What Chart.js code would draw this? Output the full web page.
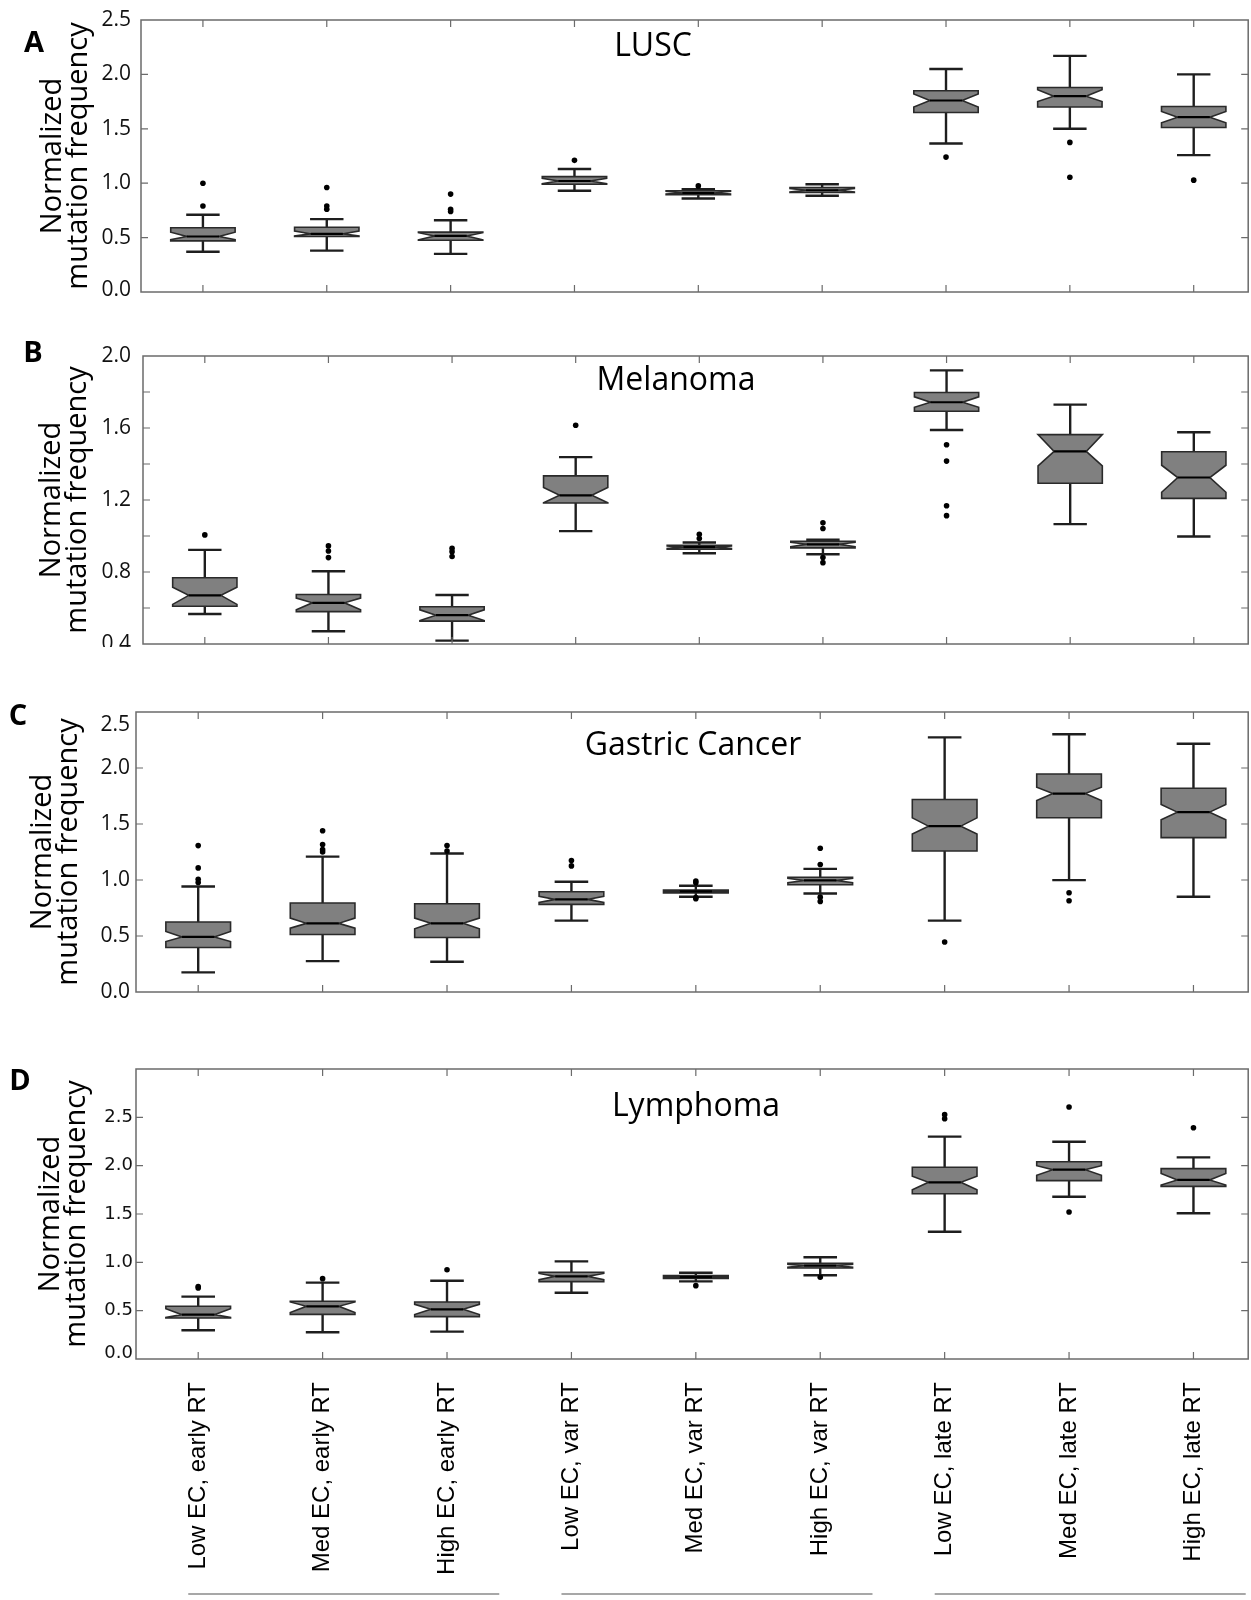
<!DOCTYPE html>
<html><head><meta charset="utf-8">
<script src="https://cdn.jsdelivr.net/npm/chart.js@4.4.1/dist/chart.umd.min.js"></script>
<style>
html,body{margin:0;padding:0;background:#fff;overflow:hidden;}
#wrap{position:relative;width:1251px;height:1600px;background:#fff;}
canvas{position:absolute;left:0;}
</style></head><body>
<div id="wrap">
<canvas id="cA" width="1251" height="320" style="top:0px"></canvas>
<canvas id="cB" width="1251" height="327" style="top:320px"></canvas>
<canvas id="cC" width="1251" height="363" style="top:647px"></canvas>
<canvas id="cD" width="1251" height="590" style="top:1010px"></canvas>
</div>
<script>
const categories = ['Low EC, early RT','Med EC, early RT','High EC, early RT','Low EC, var RT','Med EC, var RT','High EC, var RT','Low EC, late RT','Med EC, late RT','High EC, late RT'];
const yTitle = ['Normalized','mutation frequency'];
const groupRanges = [[0,2],[3,5],[6,8]];

// Panel A: LUSC
const luscWhiskerLo = [0.37,0.38,0.35,0.93,0.86,0.885,1.365,1.50,1.258];
const luscQ1        = [0.47,0.51,0.475,0.99,0.895,0.915,1.65,1.70,1.512];
const luscNotchLo   = [0.48,0.515,0.48,0.995,0.90,0.92,1.70,1.75,1.555];
const luscMedian    = [0.51,0.535,0.515,1.02,0.91,0.935,1.76,1.80,1.607];
const luscNotchHi   = [0.55,0.56,0.545,1.045,0.925,0.95,1.82,1.86,1.66];
const luscQ3        = [0.59,0.595,0.55,1.06,0.93,0.96,1.85,1.88,1.705];
const luscWhiskerHi = [0.71,0.67,0.66,1.13,0.945,0.99,2.05,2.17,2.00];
const luscOutliers  = [[1.00,0.79],[0.96,0.79,0.76],[0.90,0.76,0.74],[1.21],[0.975],[],[1.24],[1.375,1.055],[1.028]];
const luscTicks = [0,0.5,1.0,1.5,2.0,2.5];

// Panel B: Melanoma
const melWhiskerLo = [0.567,0.471,0.419,1.027,0.904,0.899,1.589,1.066,0.997];
const melQ1        = [0.61,0.58,0.527,1.183,0.926,0.934,1.693,1.293,1.209];
const melNotchLo   = [0.62,0.59,0.53,1.185,0.93,0.94,1.715,1.39,1.243];
const melMedian    = [0.67,0.629,0.56,1.226,0.938,0.954,1.743,1.47,1.325];
const melNotchHi   = [0.715,0.655,0.59,1.27,0.945,0.965,1.773,1.563,1.393];
const melQ3        = [0.768,0.675,0.607,1.334,0.949,0.971,1.797,1.563,1.468];
const melWhiskerHi = [0.923,0.804,0.672,1.438,0.964,0.979,1.92,1.73,1.576];
const melOutliers  = [[1.006],[0.945,0.917,0.88],[0.932,0.913,0.886],[1.615],[1.01,0.986],[1.073,1.042,0.88,0.852],[1.507,1.416,1.168,1.113],[],[]];
const melTicks = [0.4,0.8,1.2,1.6,2.0];

// Panel C: Gastric Cancer
const gasWhiskerLo = [0.175,0.276,0.27,0.637,0.85,0.88,0.637,0.999,0.85];
const gasQ1        = [0.397,0.513,0.486,0.782,0.885,0.957,1.259,1.556,1.378];
const gasNotchLo   = [0.45,0.57,0.565,0.80,0.89,0.975,1.41,1.71,1.538];
const gasMedian    = [0.492,0.613,0.613,0.827,0.898,0.996,1.481,1.772,1.606];
const gasNotchHi   = [0.54,0.66,0.66,0.855,0.905,1.015,1.555,1.828,1.674];
const gasQ3        = [0.625,0.794,0.788,0.895,0.91,1.025,1.719,1.947,1.819];
const gasWhiskerHi = [0.942,1.209,1.236,0.984,0.948,1.099,2.273,2.302,2.216];
const gasOutliers  = [[1.307,1.108,1.007,0.978],[1.44,1.316,1.271,1.25],[1.307,1.259],[1.173,1.126],[0.99,0.975,0.844,0.833],[1.283,1.138,0.847,0.809],[0.447],[0.886,0.815],[]];
const gasTicks = [0,0.5,1.0,1.5,2.0,2.5];

// Panel D: Lymphoma
const lymWhiskerLo = [0.297,0.276,0.283,0.686,0.803,0.866,1.317,1.679,1.507];
const lymQ1        = [0.424,0.462,0.438,0.80,0.834,0.941,1.71,1.845,1.786];
const lymNotchLo   = [0.43,0.48,0.46,0.82,0.84,0.95,1.75,1.90,1.80];
const lymMedian    = [0.459,0.545,0.514,0.855,0.848,0.966,1.828,1.959,1.852];
const lymNotchHi   = [0.52,0.59,0.565,0.885,0.856,0.98,1.89,2.00,1.92];
const lymQ3        = [0.545,0.597,0.59,0.897,0.862,0.99,1.983,2.041,1.969];
const lymWhiskerHi = [0.645,0.79,0.81,1.01,0.893,1.052,2.30,2.248,2.086];
const lymOutliers  = [[0.75,0.735],[0.831],[0.924],[],[0.759],[0.845],[2.528,2.486],[2.607,1.521],[2.393]];
const lymTicks = [0,0.5,1.0,1.5,2.0,2.5];

function fontStr(f){ return f.size+'px "'+f.family+'"'; }

function notchPlugin(s, o){
  const deco = o.deco;
  return {
    id:'notchBox',
    beforeDatasetsDraw(chart){
      const {ctx, chartArea:a, scales:{x,y}} = chart;
      ctx.save();
      ctx.beginPath(); ctx.rect(a.left,a.top,a.right-a.left,a.bottom-a.top); ctx.clip();
      const step = x.getPixelForValue(1)-x.getPixelForValue(0);
      const hw = step*0.26, cap = step*0.135, inset = hw*0.5;
      const py = v=>y.getPixelForValue(v);
      s.median.forEach((m,i)=>{
        const xc = x.getPixelForValue(i);
        const q1=py(s.q1[i]), q3=py(s.q3[i]), md=py(m);
        const nHi=py(Math.min(s.notchHi[i], s.q3[i])), nLo=py(Math.max(s.notchLo[i], s.q1[i]));
        const wH=py(s.whiskerHi[i]), wL=py(s.whiskerLo[i]);
        ctx.strokeStyle='#1e1e1e'; ctx.lineWidth=2.4; ctx.lineCap='butt';
        ctx.beginPath();
        ctx.moveTo(xc,q3); ctx.lineTo(xc,wH);
        ctx.moveTo(xc,q1); ctx.lineTo(xc,wL);
        ctx.moveTo(xc-cap,wH); ctx.lineTo(xc+cap,wH);
        ctx.moveTo(xc-cap,wL); ctx.lineTo(xc+cap,wL);
        ctx.stroke();
        ctx.beginPath();
        ctx.moveTo(xc-hw,q3); ctx.lineTo(xc+hw,q3); ctx.lineTo(xc+hw,nHi);
        ctx.lineTo(xc+hw-inset,md); ctx.lineTo(xc+hw,nLo); ctx.lineTo(xc+hw,q1);
        ctx.lineTo(xc-hw,q1); ctx.lineTo(xc-hw,nLo); ctx.lineTo(xc-hw+inset,md);
        ctx.lineTo(xc-hw,nHi); ctx.closePath();
        ctx.fillStyle='#808080'; ctx.fill();
        ctx.strokeStyle='#2a2a2a'; ctx.lineWidth=1.6; ctx.lineJoin='miter'; ctx.stroke();
        ctx.beginPath(); ctx.moveTo(xc-hw+inset,md); ctx.lineTo(xc+hw-inset,md);
        ctx.strokeStyle='#000'; ctx.lineWidth=2.2; ctx.stroke();
      });
      ctx.restore();
    },
    afterDraw(chart){
      const {ctx, chartArea:a, scales:{x,y}} = chart;
      ctx.save();
      ctx.strokeStyle='#6b6b6b'; ctx.lineWidth=1.5;
      ctx.strokeRect(a.left,a.top,a.right-a.left,a.bottom-a.top);
      ctx.lineWidth=1.2;
      ctx.beginPath();
      y.ticks.forEach(t=>{
        const p=y.getPixelForValue(t.value);
        if (Math.abs(p-a.top)<2 || Math.abs(p-a.bottom)<2) return;
        ctx.moveTo(a.left,p); ctx.lineTo(a.left+7,p);
        ctx.moveTo(a.right-7,p); ctx.lineTo(a.right,p);
      });
      x.ticks.forEach(t=>{
        const p=x.getPixelForValue(t.value);
        ctx.moveTo(p,a.bottom); ctx.lineTo(p,a.bottom-7);
        ctx.moveTo(p,a.top); ctx.lineTo(p,a.top+7);
      });
      ctx.stroke();
      ctx.fillStyle='#111'; ctx.textAlign='right'; ctx.textBaseline='middle';
      ctx.font=fontStr(o.tickFont);
      (o.shifted||[]).forEach(([v,dy])=>{
        ctx.fillText(v.toFixed(1), a.left-o.tickPad, y.getPixelForValue(v)+dy);
      });
      ctx.fillStyle='#000';
      ctx.textAlign='center'; ctx.textBaseline='middle';
      ctx.font='32px "Open Sans"';
      ctx.fillText(deco.title, deco.titleX, deco.titleY);
      ctx.font='bold 29px "Open Sans"';
      ctx.fillText(deco.letter, deco.letterX, deco.letterY);
      if (deco.groups) {
        ctx.strokeStyle='#8a8a8a'; ctx.lineWidth=1.6;
        ctx.beginPath();
        groupRanges.forEach(g=>{
          ctx.moveTo(x.getPixelForValue(g[0]-0.08), deco.groupY);
          ctx.lineTo(x.getPixelForValue(g[1]+0.42), deco.groupY);
        });
        ctx.stroke();
      }
      ctx.restore();
    }
  };
}

function makeChart(id, s, o){
  const pts = [];
  s.outliers.forEach((arr,i)=>arr.forEach(v=>pts.push({x:i,y:v})));
  const shiftedVals = (o.shifted||[]).map(p=>p[0]);
  return new Chart(document.getElementById(id), {
    type:'scatter',
    data:{datasets:[{data:pts, pointRadius:2.8, pointHoverRadius:2.8, backgroundColor:'#000', borderWidth:0}]},
    options:{
      responsive:false, animation:false, devicePixelRatio:1,
      layout:{padding:{top:o.padTop,right:2,left:0,bottom:0}},
      plugins:{legend:{display:false},tooltip:{enabled:false}},
      scales:{
        x:{type:'linear',min:-0.5,max:8.44,
          grid:{display:false,drawTicks:false}, border:{display:false},
          ticks:{display:o.showX, stepSize:1, includeBounds:false, autoSkip:false,
            minRotation:90, maxRotation:90, padding:23,
            font:{family:'Liberation Sans',size:24}, color:'#000',
            callback:(v)=>Number.isInteger(v)?categories[v]:''},
          afterFit:(sc)=>{sc.height=o.xHeight; sc.paddingLeft=0; sc.paddingRight=0;}},
        y:{type:'linear',min:o.yMin,max:o.yMax,
          grid:{display:false,drawTicks:false}, border:{display:false},
          ticks:{stepSize:o.yStep, padding:o.tickPad, font:o.tickFont, color:'#111',
            callback:(v)=>(o.labels.some(l=>Math.abs(l-v)<1e-6) && !shiftedVals.some(l=>Math.abs(l-v)<1e-6))?v.toFixed(1):''},
          title:{display:true,text:yTitle,color:'#000',
            font:{family:'Open Sans',size:29,lineHeight:26/29},
            padding:{top:o.titlePad,bottom:0}},
          afterFit:(sc)=>{sc.width=o.yWidth; sc.paddingTop=0; sc.paddingBottom=0;}}
      }
    },
    plugins:[notchPlugin(s, o)]
  });
}

makeChart('cA',
  {whiskerLo:luscWhiskerLo,q1:luscQ1,notchLo:luscNotchLo,median:luscMedian,notchHi:luscNotchHi,q3:luscQ3,whiskerHi:luscWhiskerHi,outliers:luscOutliers},
  {padTop:20,xHeight:28,yWidth:141,yMin:0,yMax:2.5,yStep:0.5,labels:luscTicks,tickPad:10,
   tickFont:{family:'Open Sans',size:21},titlePad:40,showX:false,shifted:[[0,-2]],
   deco:{title:'LUSC',titleX:653,titleY:47,letter:'A',letterX:34,letterY:44}});

makeChart('cB',
  {whiskerLo:melWhiskerLo,q1:melQ1,notchLo:melNotchLo,median:melMedian,notchHi:melNotchHi,q3:melQ3,whiskerHi:melWhiskerHi,outliers:melOutliers},
  {padTop:36,xHeight:3,yWidth:143,yMin:0.4,yMax:2.0,yStep:0.2,labels:melTicks,tickPad:12,
   tickFont:{family:'Open Sans',size:21},titlePad:39,showX:false,
   deco:{title:'Melanoma',titleX:676,titleY:61,letter:'B',letterX:33,letterY:34}});

makeChart('cC',
  {whiskerLo:gasWhiskerLo,q1:gasQ1,notchLo:gasNotchLo,median:gasMedian,notchHi:gasNotchHi,q3:gasQ3,whiskerHi:gasWhiskerHi,outliers:gasOutliers},
  {padTop:65,xHeight:18,yWidth:136,yMin:0,yMax:2.5,yStep:0.5,labels:gasTicks,tickPad:6,
   tickFont:{family:'Open Sans',size:21},titlePad:30,showX:false,shifted:[[2.5,13]],
   deco:{title:'Gastric Cancer',titleX:693,titleY:99,letter:'C',letterX:18,letterY:70}});

makeChart('cD',
  {whiskerLo:lymWhiskerLo,q1:lymQ1,notchLo:lymNotchLo,median:lymMedian,notchHi:lymNotchHi,q3:lymQ3,whiskerHi:lymWhiskerHi,outliers:lymOutliers},
  {padTop:59,xHeight:241,yWidth:136,yMin:0,yMax:3.0,yStep:0.5,labels:lymTicks,tickPad:3,
   tickFont:{family:'DejaVu Sans',size:18},titlePad:38,showX:true,shifted:[[0,-6]],
   deco:{title:'Lymphoma',titleX:696,titleY:97,letter:'D',letterX:20,letterY:72,groups:true,groupY:584}});
</script>
</body></html>
